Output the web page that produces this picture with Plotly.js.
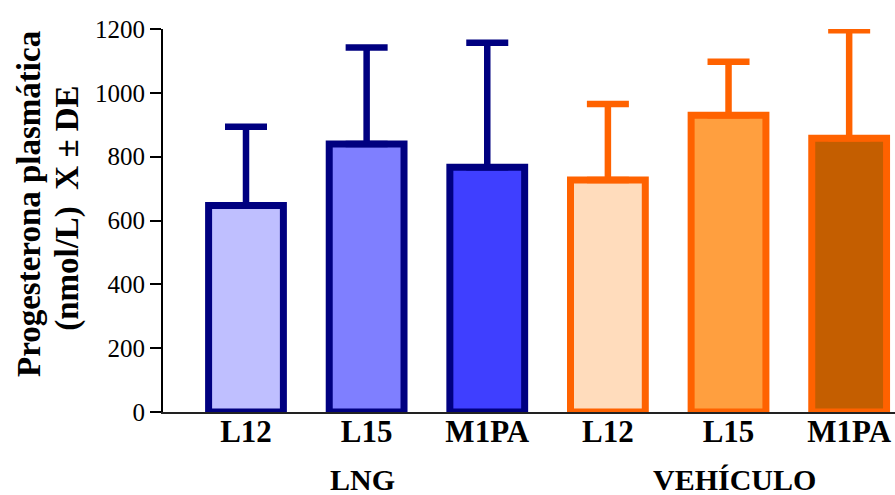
<!DOCTYPE html>
<html>
<head>
<meta charset="utf-8">
<script src="https://cdn.plot.ly/plotly-3.0.1.min.js"></script>
<style>html,body{margin:0;padding:0;background:#fff;}#chart{width:895px;height:495px;}</style>
</head>
<body>
<div id="chart"></div>
<script>
// Data
const categories = ["L12", "L15", "M1PA", "L12", "L15", "M1PA"];
const groups = ["LNG", "VEHÍCULO"];
const means = [647, 840, 767, 727, 930, 858];
const sdUpper = [247, 302, 390, 238, 167, 338];
const fillColors = ["#BFBFFF", "#7F7FFF", "#3F3FFF", "#FFDCBC", "#FF9F3F", "#C45E00"];
const lineColors = ["#000080", "#000080", "#000080", "#FF6200", "#FF6200", "#FF6200"];
const yTicks = [0, 200, 400, 600, 800, 1000, 1200];
const yTitleLines = ["Progesterona plasmática", "(nmol/L)  X ± DE"];

const xPos = categories.map((c, i) => i);
const SERIF = "'Liberation Serif', 'Times New Roman', Times, serif";

const traces = xPos.map((x, i) => ({
  type: "bar",
  x: [x],
  y: [means[i]],
  width: 0.62,
  marker: { color: fillColors[i], line: { color: lineColors[i], width: 7 } },
  error_y: {
    type: "data", symmetric: false, array: [sdUpper[i]], arrayminus: [0],
    color: lineColors[i], thickness: 6.5, width: 21
  },
  showlegend: false,
  hoverinfo: "skip"
}));

const layout = {
  width: 895, height: 495,
  margin: { l: 163, r: 0, t: 29, b: 83 },
  paper_bgcolor: "#fff", plot_bgcolor: "#fff",
  font: { family: SERIF, color: "#000" },
  xaxis: {
    range: [-0.688, 5.38],
    tickvals: xPos, ticktext: categories.map(c => "<b>" + c + "</b>"),
    tickfont: { size: 31, family: SERIF, color: "#000" },
    ticks: "", ticklabelstandoff: -9, showgrid: false, zeroline: false,
    showline: true, linecolor: "#222", linewidth: 2,
    fixedrange: true
  },
  yaxis: {
    range: [0, 1200], tickvals: yTicks, ticktext: yTicks.map(String),
    tickfont: { size: 25, family: SERIF, color: "#000" },
    ticks: "outside", ticklen: 11, tickwidth: 2, tickcolor: "#000",
    showgrid: false, zeroline: false,
    showline: true, linecolor: "#000", linewidth: 2
  },
  annotations: [
    {
      text: "<b>" + yTitleLines[0] + "</b>",
      xref: "paper", yref: "paper", x: -0.1831, y: 0.543,
      xanchor: "center", yanchor: "middle", textangle: -90, showarrow: false,
      font: { size: 33, family: SERIF, color: "#000" }
    },
    {
      text: "<b>" + yTitleLines[1] + "</b>",
      xref: "paper", yref: "paper", x: -0.1298, y: 0.533,
      xanchor: "center", yanchor: "middle", textangle: -90, showarrow: false,
      font: { size: 33, family: SERIF, color: "#000" }
    },
    {
      text: "<b>" + groups[0] + "</b>", xref: "x", yref: "paper", x: 0.966, y: -0.176,
      xanchor: "center", yanchor: "middle", showarrow: false,
      font: { size: 30, family: SERIF, color: "#000" }
    },
    {
      text: "<b>" + groups[1] + "</b>", xref: "x", yref: "paper", x: 4.05, y: -0.176,
      xanchor: "center", yanchor: "middle", showarrow: false,
      font: { size: 30, family: SERIF, color: "#000" }
    }
  ]
};

Plotly.newPlot("chart", traces, layout, { displayModeBar: false, staticPlot: true });
</script>
</body>
</html>
